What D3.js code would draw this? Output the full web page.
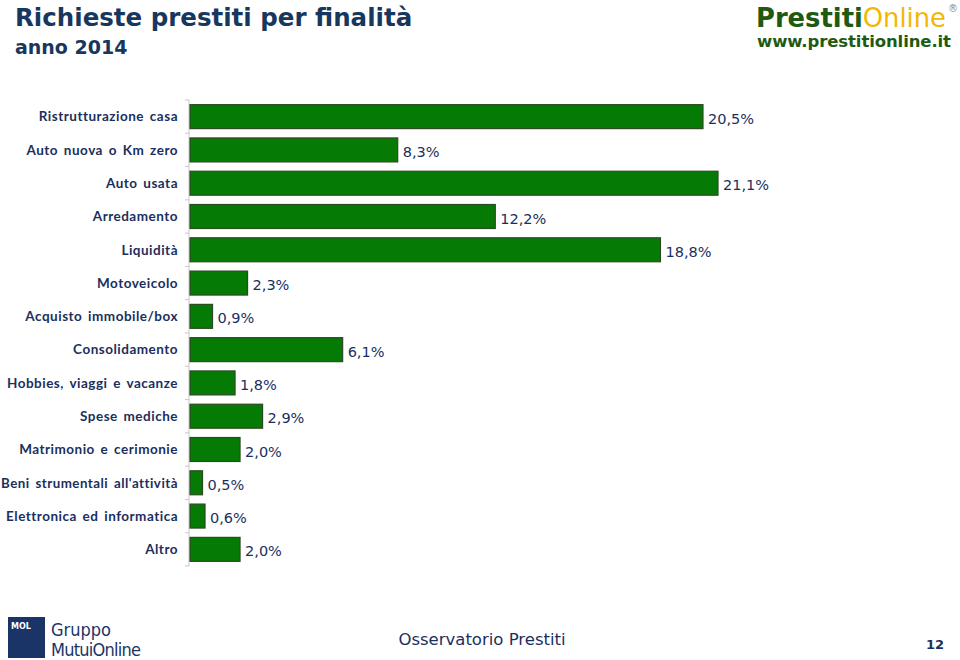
<!DOCTYPE html>
<html><head><meta charset="utf-8">
<script src="https://cdn.jsdelivr.net/npm/d3@7"></script>
<style>body{margin:0;background:#fff;} svg{display:block;}</style>
</head><body>
<svg id="c" width="960" height="660"></svg>
<script>
const categories = ["Ristrutturazione casa","Auto nuova o Km zero","Auto usata","Arredamento","Liquidità","Motoveicolo","Acquisto immobile/box","Consolidamento","Hobbies, viaggi e vacanze","Spese mediche","Matrimonio e cerimonie","Beni strumentali all'attività","Elettronica ed informatica","Altro"];
const values = [20.5,8.3,21.1,12.2,18.8,2.3,0.9,6.1,1.8,2.9,2.0,0.5,0.6,2.0];
const valueLabels = ["20,5%","8,3%","21,1%","12,2%","18,8%","2,3%","0,9%","6,1%","1,8%","2,9%","2,0%","0,5%","0,6%","2,0%"];

const svg = d3.select("#c");
const navy = "#1b2f5e";
const font = "'DejaVu Sans',sans-serif";

// Title
svg.append("text").attr("x",15).attr("y",26).attr("fill","#17375e")
  .attr("font-family",font).attr("font-weight","bold").attr("font-size",24.5).text("Richieste prestiti per finalità");
svg.append("text").attr("x",15).attr("y",54).attr("fill","#17375e")
  .attr("font-family",font).attr("font-weight","bold").attr("font-size",19).text("anno 2014");

// Logo top right
const lg = svg.append("text").attr("x",756).attr("y",27).attr("font-family","'DejaVu Sans',sans-serif").attr("font-size",27)
  .attr("textLength",190).attr("lengthAdjust","spacingAndGlyphs");
lg.append("tspan").attr("fill","#1e5a12").attr("font-weight","bold").text("Prestiti");
lg.append("tspan").attr("fill","#f2b705").text("Online");
svg.append("text").attr("x",948).attr("y",12).attr("fill","#888").attr("font-family","'DejaVu Sans',sans-serif").attr("font-size",10).text("®");
svg.append("text").attr("x",757).attr("y",47).attr("fill","#1e5a12").attr("font-weight","bold")
  .attr("font-family","'DejaVu Sans',sans-serif").attr("font-size",16.5).attr("textLength",194).text("www.prestitionline.it");

// Chart
const x0 = 189, yTop = 100, yBot = 566;
const x = d3.scaleLinear().domain([0,21.1]).range([x0+1, 718]);
const y = d3.scaleBand().domain(categories).range([yTop,yBot]).paddingInner(0.28).paddingOuter(0.14);

const g = svg.append("g");
g.append("line").attr("x1",x0).attr("x2",x0).attr("y1",yTop).attr("y2",yBot).attr("stroke","#c8c8c8").attr("stroke-width",1);
const bounds = d3.range(categories.length+1).map(i => yTop + (yBot-yTop)*i/categories.length);
g.selectAll("line.tk").data(bounds).join("line").attr("class","tk")
  .attr("x1",x0-4).attr("x2",x0).attr("y1",d=>d).attr("y2",d=>d).attr("stroke","#c8c8c8");

g.selectAll("rect.bar").data(values).join("rect").attr("class","bar")
  .attr("x",x(0)).attr("y",(d,i)=>y(categories[i]))
  .attr("width",d=>x(d)-x(0)).attr("height",y.bandwidth())
  .attr("fill","#057a05").attr("stroke","#2c4a22").attr("stroke-width",1.2);

const cats = g.selectAll("text.cat").data(categories).join("text").attr("class","cat")
  .attr("x",178).attr("y",d=>y(d)+y.bandwidth()/2).attr("dy","0.35em")
  .attr("text-anchor","end").attr("fill",navy).attr("font-family","Lato, 'DejaVu Sans', sans-serif").attr("font-weight","bold")
  .attr("font-size",13.5).attr("letter-spacing",0.5).attr("word-spacing",2).text(d=>d);
// keep every label inside the left edge
cats.each(function(){ const w=this.getComputedTextLength(); if(w>177){ d3.select(this).attr("textLength",177).attr("lengthAdjust","spacingAndGlyphs"); } });

g.selectAll("text.val").data(values).join("text").attr("class","val")
  .attr("x",d=>x(d)+5).attr("y",(d,i)=>y(categories[i])+y.bandwidth()/2+2).attr("dy","0.35em")
  .attr("fill",navy).attr("font-family",font).attr("font-size",14.5).text((d,i)=>valueLabels[i]);

// Footer
svg.append("rect").attr("x",8).attr("y",617).attr("width",37).attr("height",41).attr("fill","#1b3467");
svg.append("text").attr("x",11).attr("y",629).attr("fill","#fff").attr("font-family","'DejaVu Sans',sans-serif")
  .attr("font-weight","bold").attr("font-size",8).text("MOL");
svg.append("text").attr("x",51).attr("y",636).attr("fill","#1b3467").attr("font-family","'Liberation Sans Narrow','DejaVu Sans Condensed',sans-serif")
  .attr("font-size",18).text("Gruppo");
svg.append("text").attr("x",51).attr("y",656).attr("fill","#1b3467").attr("font-family","'Liberation Sans Narrow','DejaVu Sans Condensed',sans-serif")
  .attr("font-size",18).attr("textLength",90).text("MutuiOnline");
svg.append("text").attr("x",482).attr("y",645).attr("text-anchor","middle").attr("fill","#1b2f5e")
  .attr("font-family",font).attr("font-size",16.5).text("Osservatorio Prestiti");
svg.append("text").attr("x",935).attr("y",649).attr("text-anchor","middle").attr("fill","#1b2f5e")
  .attr("font-family",font).attr("font-weight","bold").attr("font-size",13).text("12");
</script>
</body></html>
